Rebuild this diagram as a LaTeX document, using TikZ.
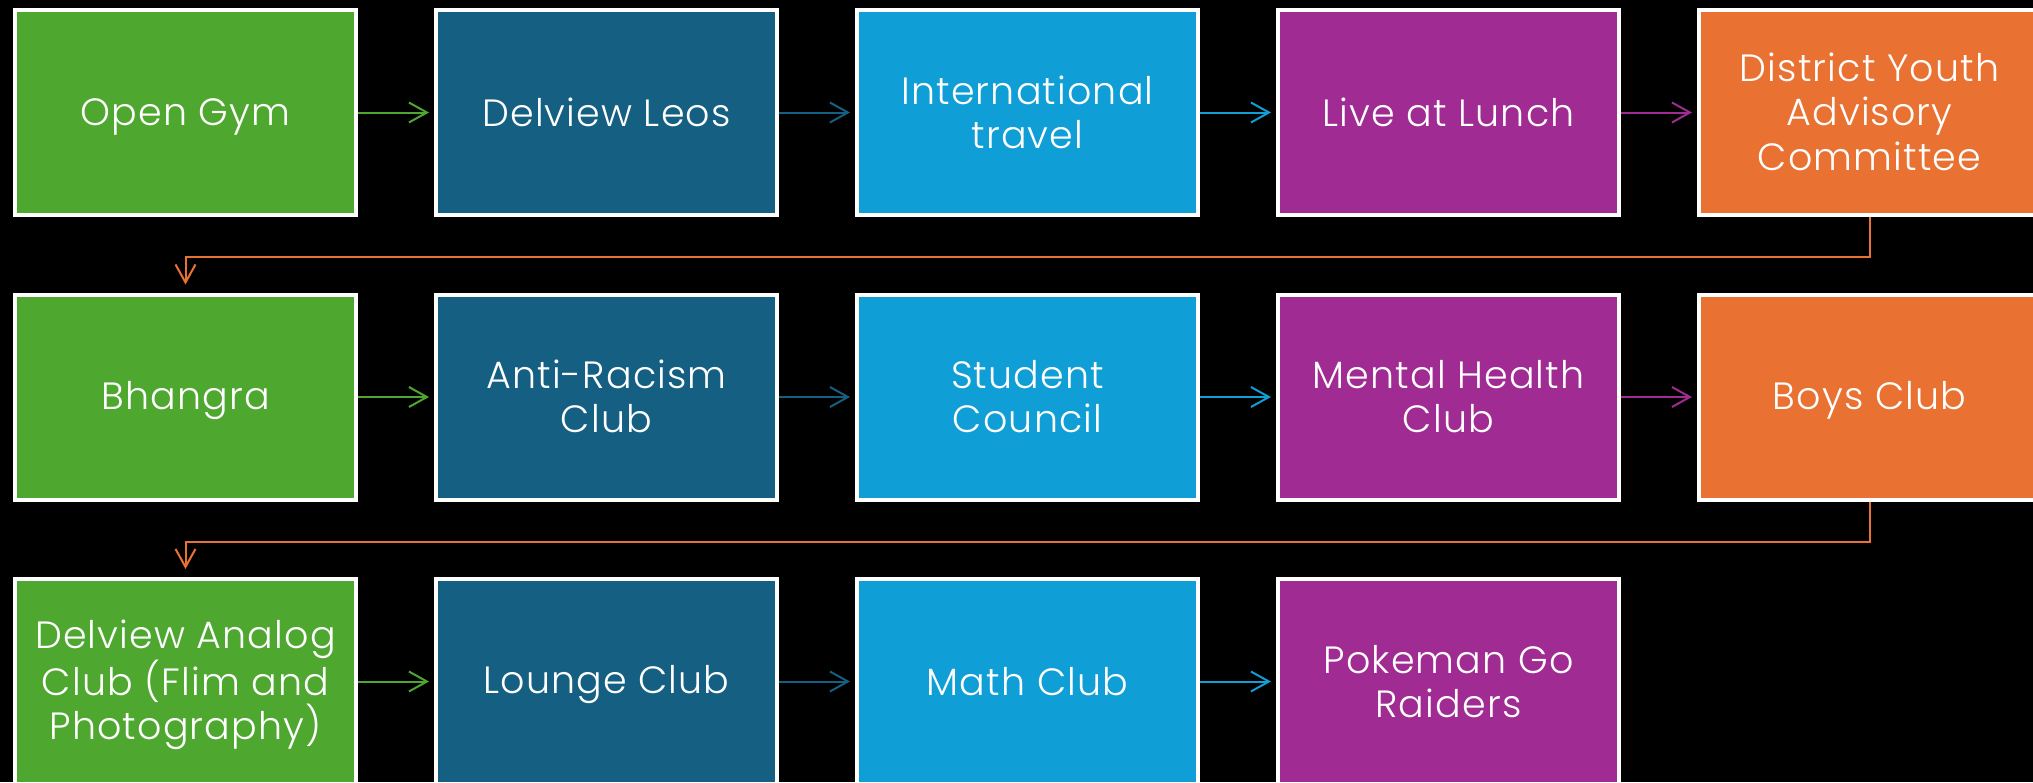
\documentclass[tikz,border=0pt]{standalone}
\usepackage{fontspec}
\setmainfont{Poppins}[UprightFont=* Light,LetterSpace=3]
\usetikzlibrary{arrows.meta}
\definecolor{cgreen}{HTML}{4EA72E}
\definecolor{cdblue}{HTML}{156082}
\definecolor{clblue}{HTML}{0F9ED5}
\definecolor{cpurple}{HTML}{A02B93}
\definecolor{corange}{HTML}{E97132}
\newcommand\ls{\rule[-8pt]{0pt}{43pt}}
\begin{document}
\begin{tikzpicture}[x=1pt,y=-1pt,
  box/.style={draw=white,line width=4pt,minimum width=341pt,minimum height=205pt,inner sep=0pt,align=center,text=white,font=\fontsize{38}{44}\selectfont},
  conn/.style={line width=2pt,-{Straight Barb[length=18pt,width=20pt,line width=2pt]}}]
\clip (0,0) rectangle (2033,782);
\fill[black] (0,0) rectangle (2033,782);
% row 1
\node[box,fill=cgreen]  (a1) at (185.5,112.5) {\ls Open Gym};
\node[box,fill=cdblue]  (a2) at (606.5,112.5) {\ls Delview Leos};
\node[box,fill=clblue]  (a3) at (1027.5,112.5) {\ls International\\\ls travel};
\node[box,fill=cpurple] (a4) at (1448.5,112.5) {\ls Live at Lunch};
\node[box,fill=corange] (a5) at (1869.5,112.5) {\ls District Youth\\\ls Advisory\\\ls Committee};
% row 2
\node[box,fill=cgreen]  (b1) at (185.5,397) {\ls Bhangra};
\node[box,fill=cdblue]  (b2) at (606.5,397) {\ls Anti-Racism\\\ls Club};
\node[box,fill=clblue]  (b3) at (1027.5,397) {\ls Student\\\ls Council};
\node[box,fill=cpurple] (b4) at (1448.5,397) {\ls Mental Health\\\ls Club};
\node[box,fill=corange] (b5) at (1869.5,397) {\ls Boys Club};
% row 3
\node[box,fill=cgreen]  (c1) at (185.5,681.5) {\ls Delview Analog\\\ls Club (Flim and\\\ls Photography)};
\node[box,fill=cdblue]  (c2) at (606.5,681.5) {\ls Lounge Club};
\node[box,fill=clblue]  (c3) at (1027.5,681.5) {\ls Math Club};
\node[box,fill=cpurple] (c4) at (1448.5,681.5) {\ls Pokeman Go\\\ls Raiders};
% arrows
\foreach \r in {a,b,c}{
  \draw[conn,cgreen]  (\r1.east) -- ([xshift=-5pt]\r2.west);
  \draw[conn,cdblue]  (\r2.east) -- ([xshift=-5pt]\r3.west);
  \draw[conn,clblue]  (\r3.east) -- ([xshift=-5pt]\r4.west);
}
\draw[conn,cpurple] (a4.east) -- ([xshift=-5pt]a5.west);
\draw[conn,cpurple] (b4.east) -- ([xshift=-5pt]b5.west);
\draw[conn,corange] (a5.south) -- ++(0,40) -| ([yshift=8pt]b1.north);
\draw[conn,corange] (b5.south) -- ++(0,40) -| ([yshift=8pt]c1.north);
\end{tikzpicture}
\end{document}
